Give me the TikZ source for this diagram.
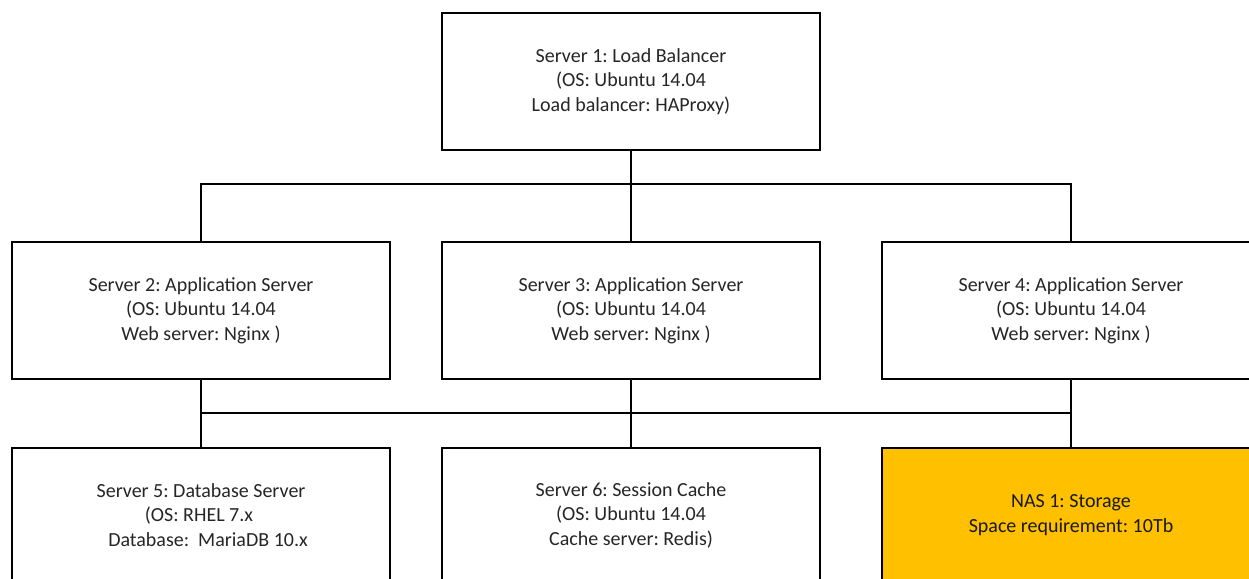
\documentclass[tikz,border=0pt]{standalone}
\usepackage{fontspec}
\setmainfont{Carlito}
\frenchspacing
\definecolor{nasgold}{HTML}{FFC000}
\definecolor{txt}{HTML}{262626}
\tikzset{
  srvbox/.style={draw=black, line width=1.5pt, fill=white, minimum width=378pt,
    minimum height=137pt, inner sep=0pt, align=center, text=txt,
    font=\fontsize{20}{24.5}\selectfont\frenchspacing},
  nasbox/.style={srvbox, fill=nasgold, text=black!90},
  wire/.style={draw=black, line width=1.5pt}
}
\begin{document}
\begin{tikzpicture}[x=1pt,y=-1pt]
\useasboundingbox (0,0) rectangle (1249,578);
\clip (0,0) rectangle (1249,578);
\node[srvbox] (s1) at (631,81.5) {Server 1: Load Balancer\\(OS: Ubuntu 14.04\\Load balancer: HAProxy)};
\node[srvbox] (s2) at (201,310.5) {Server 2: Application Server\\(OS: Ubuntu 14.04\\Web server: Nginx )};
\node[srvbox] (s3) at (631,310.5) {Server 3: Application Server\\(OS: Ubuntu 14.04\\Web server: Nginx )};
\node[srvbox] (s4) at (1071,310.5) {Server 4: Application Server\\(OS: Ubuntu 14.04\\Web server: Nginx )};
\node[srvbox, minimum height=134pt] (s5) at (201,515) {Server 5: Database Server\\\hspace*{-4pt}(OS: RHEL 7.x\\\hspace*{14pt}Database:\ \ MariaDB 10.x};
\node[srvbox, minimum height=134pt] (s6) at (631,515) {Server 6: Session Cache\\(OS: Ubuntu 14.04\\Cache server: Redis)};
\node[nasbox, minimum height=134pt] (nas) at (1071,515) {NAS 1: Storage\\Space requirement: 10Tb};
\coordinate (t) at (631,184);
\coordinate (b) at (631,413);
\draw[wire] (s1.south) -- (t);
\draw[wire] (s2.north) -- (s2.north |- t) -- (s4.north |- t) -- (s4.north);
\draw[wire] (t) -- (s3.north);
\draw[wire] (s2.south) -- (s5.north);
\draw[wire] (s3.south) -- (s6.north);
\draw[wire] (s4.south) -- (nas.north);
\draw[wire] (s2.south |- b) -- (s4.south |- b);
\end{tikzpicture}
\end{document}
